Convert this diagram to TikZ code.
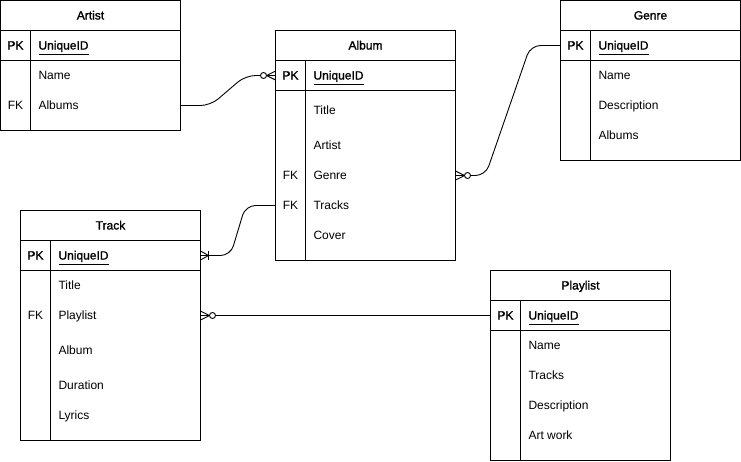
\documentclass[tikz,border=0pt]{standalone}
\usepackage{fontspec}
\setmainfont{Liberation Sans}
% a lightly emboldened face for table titles and primary keys
\newfontfamily\lightbold[FakeBold=1.4]{Liberation Sans}
\usetikzlibrary{calc}

% underlined key name, with the rule set a little below the baseline
\newcommand{\keyname}[1]{\leavevmode\vtop{\hbox{#1}\kern2pt\hrule height 0.7pt}}

\begin{document}
\begin{tikzpicture}[
  x=1pt, y=-1pt,
  every node/.style={inner sep=0pt, outer sep=0pt, text=black},
  tbl/.style={draw=black, line width=0.9pt, rectangle, anchor=north west,
              minimum width=180pt, fill=white},
  rule/.style={draw=black, line width=0.9pt},
  ttl/.style={anchor=base, font=\fontsize{12}{14}\selectfont\lightbold},
  keyc/.style={anchor=base, font=\fontsize{12}{14}\selectfont},
  pkey/.style={anchor=base, font=\fontsize{12}{14}\selectfont\lightbold},
  fld/.style={anchor=base west, font=\fontsize{12}{14}\selectfont},
  uid/.style={anchor=base west, font=\fontsize{12}{14}\selectfont\lightbold},
  rel/.style={draw=black, line width=0.9pt, rounded corners=10pt},
  tip/.style={draw=black, line width=0.9pt},
  zeromany/.pic={
    \draw[tip] (0,-4.5) -- (9,0) -- (0,4.5) (0,0) -- (9,0);
    \draw[tip, fill=white] (12,0) circle[radius=3pt];
  },
  onemany/.pic={
    \draw[tip] (0,-4.5) -- (8,0) -- (0,4.5) (0,0) -- (8,0);
    \draw[tip] (8,-4.5) -- (8,4.5);
  },
]
\useasboundingbox (0,0) rectangle (741,461);

% ---------------- Artist ----------------
\begin{scope}[shift={(0.5,0.5)}]
  \node[tbl, minimum height=130pt] (artist) at (0,0) {};
  \draw[rule] (0,30) -- (180,30) (0,60) -- (180,60) (30,30) -- (30,130);
  \node[ttl] (artist-title) at (90,19) {Artist};
  \node[pkey] (artist-pkl) at (15,49) {PK};
  \node[uid] (artist-uid) at (38,49) {\keyname{UniqueID}};
  \node[fld] (artist-name) at (38,79) {Name};
  \node[keyc] (artist-fkl) at (15,109) {FK};
  \node[fld] (artist-alb) at (38,109) {Albums};
  \coordinate (artist-albums) at (180,105);
\end{scope}

% ---------------- Album ----------------
\begin{scope}[shift={(275.5,30.5)}]
  \node[tbl, minimum height=230pt] (album) at (0,0) {};
  \draw[rule] (0,30) -- (180,30) (0,60) -- (180,60) (30,30) -- (30,230);
  \node[ttl] (album-title) at (90,19) {Album};
  \node[pkey] (album-pkl) at (15,49) {PK};
  \node[uid] (album-uid) at (38,49) {\keyname{UniqueID}};
  \node[fld] (album-t) at (38,84) {Title};
  \node[fld] (album-a) at (38,119) {Artist};
  \node[keyc] (album-fk1) at (15,149) {FK};
  \node[fld] (album-g) at (38,149) {Genre};
  \node[keyc] (album-fk2) at (15,179) {FK};
  \node[fld] (album-tr) at (38,179) {Tracks};
  \node[fld] (album-c) at (38,209) {Cover};
  \coordinate (album-pk) at (0,45);
  \coordinate (album-genre) at (180,145);
  \coordinate (album-tracks) at (0,175);
\end{scope}

% ---------------- Genre ----------------
\begin{scope}[shift={(560.5,0.5)}]
  \node[tbl, minimum height=160pt] (genre) at (0,0) {};
  \draw[rule] (0,30) -- (180,30) (0,60) -- (180,60) (30,30) -- (30,160);
  \node[ttl] (genre-title) at (90,19) {Genre};
  \node[pkey] (genre-pkl) at (15,49) {PK};
  \node[uid] (genre-uid) at (38,49) {\keyname{UniqueID}};
  \node[fld] (genre-n) at (38,79) {Name};
  \node[fld] (genre-d) at (38,109) {Description};
  \node[fld] (genre-a) at (38,139) {Albums};
  \coordinate (genre-pk) at (0,45);
\end{scope}

% ---------------- Track ----------------
\begin{scope}[shift={(20.5,210.5)}]
  \node[tbl, minimum height=230pt] (track) at (0,0) {};
  \draw[rule] (0,30) -- (180,30) (0,60) -- (180,60) (30,30) -- (30,230);
  \node[ttl] (track-title) at (90,19) {Track};
  \node[pkey] (track-pkl) at (15,49) {PK};
  \node[uid] (track-uid) at (38,49) {\keyname{UniqueID}};
  \node[fld] (track-t) at (38,79) {Title};
  \node[keyc] (track-fk) at (15,109) {FK};
  \node[fld] (track-p) at (38,109) {Playlist};
  \node[fld] (track-a) at (38,144) {Album};
  \node[fld] (track-d) at (38,179) {Duration};
  \node[fld] (track-l) at (38,209) {Lyrics};
  \coordinate (track-pk) at (180,45);
  \coordinate (track-playlist) at (180,105);
\end{scope}

% ---------------- Playlist ----------------
\begin{scope}[shift={(490.5,270.5)}]
  \node[tbl, minimum height=190pt] (playlist) at (0,0) {};
  \draw[rule] (0,30) -- (180,30) (0,60) -- (180,60) (30,30) -- (30,190);
  \node[ttl] (playlist-title) at (90,19) {Playlist};
  \node[pkey] (playlist-pkl) at (15,49) {PK};
  \node[uid] (playlist-uid) at (38,49) {\keyname{UniqueID}};
  \node[fld] (playlist-n) at (38,79) {Name};
  \node[fld] (playlist-t) at (38,109) {Tracks};
  \node[fld] (playlist-d) at (38,139) {Description};
  \node[fld] (playlist-w) at (38,169) {Art work};
  \coordinate (playlist-pk) at (0,45);
\end{scope}

% ---------------- Relationships ----------------
\draw[rel] (artist-albums) -- ++(30,0) -- ($(album-pk)+(-30,0)$) -- (album-pk);
\pic[xscale=-1] at (album-pk) {zeromany};

\draw[rel] (genre-pk) -- ++(-30,0) -- ($(album-genre)+(30,0)$) -- (album-genre);
\pic at (album-genre) {zeromany};

\draw[rel] (album-tracks) -- ++(-30,0) -- ($(track-pk)+(30,0)$) -- (track-pk);
\pic at (track-pk) {onemany};

\draw[rel] (playlist-pk) -- (track-playlist);
\pic at (track-playlist) {zeromany};

\end{tikzpicture}
\end{document}
